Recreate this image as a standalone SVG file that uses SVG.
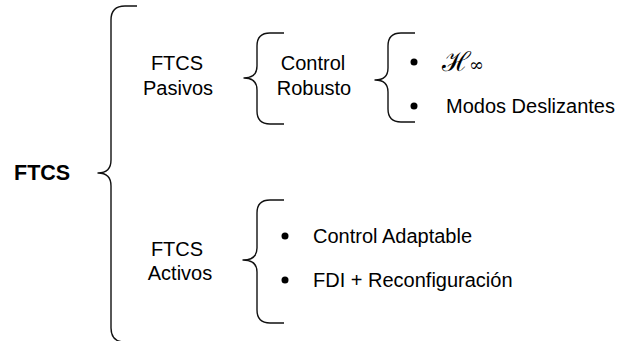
<svg xmlns="http://www.w3.org/2000/svg" width="636" height="341" viewBox="0 0 636 341">
<style>
.t{font-family:"Liberation Sans",Arial,sans-serif;font-size:20px;fill:#000}
.b{font-weight:bold;font-size:21.5px}
.br{fill:none;stroke:#111;stroke-width:1.4;stroke-linejoin:round}
.bul{fill:#000}
</style>
<rect width="636" height="341" fill="#fff"/>
<g id="connectors">
<path class="br" d="M137,6 H125 Q111,6 111,20 V160 Q111,173 98,173 Q111,173 111,186 V328 Q111,342 125,342 H137"/>
<path class="br" d="M284,33 H270 Q257,33 257,46 V66 Q257,78 244,78 Q257,78 257,90 V111 Q257,124 270,124 H284"/>
<path class="br" d="M415,33 H401 Q388,33 388,46 V68 Q388,80 375,80 Q388,80 388,92 V109 Q388,122 401,122 H415"/>
<path class="br" d="M284,200 H270 Q257,200 257,213 V248 Q257,260 243,260 Q257,260 257,272 V310 Q257,323 270,323 H284"/>
</g>
<g id="ftcs"><text class="t b" x="14" y="180">FTCS</text></g>
<g id="pasivos"><text class="t" x="177" y="70" text-anchor="middle">FTCS</text><text class="t" x="178" y="95" text-anchor="middle">Pasivos</text></g>
<g id="activos"><text class="t" x="177" y="256" text-anchor="middle">FTCS</text><text class="t" x="180" y="280" text-anchor="middle">Activos</text></g>
<g id="robusto"><text class="t" x="313" y="70" text-anchor="middle">Control</text><text class="t" x="314" y="95" text-anchor="middle">Robusto</text></g>
<g id="hinf"><circle class="bul" cx="414" cy="62" r="3.5"/><text x="442" y="71" style="font-family:'DejaVu Serif',serif;font-size:27px">ℋ<tspan dx="-2" style="font-size:18px">∞</tspan></text></g>
<g id="modos"><circle class="bul" cx="414" cy="106" r="3.5"/><text class="t" x="446" y="113">Modos Deslizantes</text></g>
<g id="adaptable"><circle class="bul" cx="285" cy="236" r="3.5"/><text class="t" x="313" y="243">Control Adaptable</text></g>
<g id="fdi"><circle class="bul" cx="285" cy="280" r="3.5"/><text class="t" x="313" y="287">FDI + Reconfiguración</text></g>
</svg>
